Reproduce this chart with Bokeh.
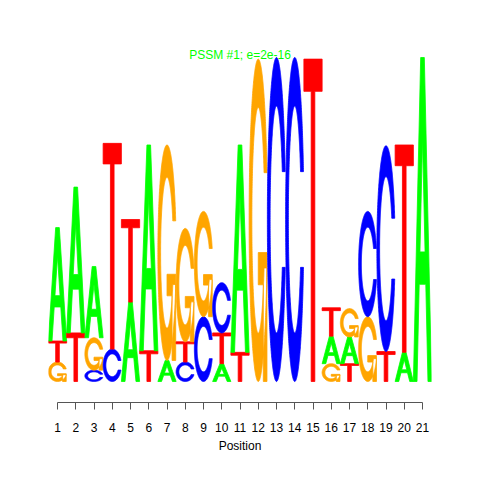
import numpy as np
from bokeh.plotting import figure
from bokeh.models import ColumnDataSource, FixedTicker, Label
from bokeh.embed import file_html
from bokeh.resources import INLINE

# ---- data (information content in bits, per position) ----
positions = list(range(1, 22))
A_bits = [0.70, 0.90, 0.44, 0.00, 0.49, 1.27, 0.13, 0.00, 0.00, 0.11, 1.28,
          0.00, 0.00, 0.00, 0.00, 0.17, 0.165, 0.00, 0.00, 0.18, 2.00]
C_bits = [0.00, 0.00, 0.07, 0.20, 0.00, 0.00, 0.00, 0.12, 0.40, 0.31, 0.00,
          0.00, 2.00, 2.00, 0.00, 0.00, 0.00, 0.65, 1.27, 0.00, 0.00]
G_bits = [0.12, 0.00, 0.20, 0.00, 0.00, 0.00, 1.33, 0.70, 0.65, 0.00, 0.00,
          1.99, 0.00, 0.00, 0.00, 0.11, 0.175, 0.40, 0.00, 0.00, 0.00]
T_bits = [0.13, 0.30, 0.00, 1.27, 0.51, 0.19, 0.00, 0.125, 0.00, 0.19, 0.18,
          0.00, 0.00, 0.00, 1.99, 0.175, 0.11, 0.00, 0.185, 1.28, 0.00]
tick_labels = [str(i) for i in positions]
title_text = "PSSM #1; e=2e-16"
x_label = "Position"

colors = {"A": "#00FF00", "C": "#0000FF", "G": "#FFA500", "T": "#FF0000"}
title_color = "#00FF00"

# ---- letter outlines in a unit box (seqLogo style) ----
def shape_A():
    ox = [0, 0.4, 0.6, 1.0, 0.8, 0.68, 0.32, 0.2]
    oy = [0, 1.0, 1.0, 0.0, 0.0, 0.3, 0.3, 0.0]
    hx = [0.36, 0.5, 0.64]
    hy = [0.4, 0.75, 0.4]
    return [[(ox, oy), (hx, hy)]]

def c_ring():
    a1 = np.linspace(0.3 + np.pi / 2, np.pi, 100)
    a2 = np.linspace(np.pi, 1.5 * np.pi, 100)
    xl1 = 0.5 + 0.5 * np.sin(a1); yl1 = 0.5 + 0.5 * np.cos(a1)
    xl2 = 0.5 + 0.5 * np.sin(a2); yl2 = 0.5 + 0.5 * np.cos(a2)
    xl = np.concatenate([xl1, xl2]); yl = np.concatenate([yl1, yl2])
    x = np.concatenate([xl, xl[::-1]]); y = np.concatenate([yl, 1 - yl[::-1]])
    hmax = yl1.max()
    xi1 = 0.5 + 0.35 * np.sin(a1); yi1 = 0.5 + 0.35 * np.cos(a1)
    m = yi1 <= hmax
    xi1 = xi1[m]; yi1 = yi1[m].copy(); yi1[0] = hmax
    xi2 = 0.5 + 0.35 * np.sin(a2); yi2 = 0.5 + 0.35 * np.cos(a2)
    xi = np.concatenate([xi1, xi2]); yi = np.concatenate([yi1, yi2])
    x1 = np.concatenate([xi, xi[::-1]]); y1 = np.concatenate([yi, 1 - yi[::-1]])
    X = np.concatenate([x, x1[::-1]]); Y = np.concatenate([y, y1[::-1]])
    return list(X), list(Y), xl1.max()

def shape_C():
    X, Y, _ = c_ring()
    return [[(X, Y)]]

def shape_G():
    X, Y, r1 = c_ring()
    h1 = 0.4
    bx = [r1, 0.5, 0.5, r1 - 0.2, r1 - 0.2, r1]
    by = [h1, h1, h1 - 0.1, h1 - 0.1, 0, 0]
    return [[(X, Y)], [(bx, by)]]

def shape_T():
    tx = [0, 1, 1, 0.6, 0.6, 0.4, 0.4, 0]
    ty = [1, 1, 0.9, 0.9, 0, 0, 0.9, 0.9]
    return [[(tx, ty)]]

shapes = {"A": shape_A(), "C": shape_C(), "G": shape_G(), "T": shape_T()}
bits = {"A": A_bits, "C": C_bits, "G": G_bits, "T": T_bits}

xs, ys, fills = [], [], []
for i, pos in enumerate(positions):
    col = sorted([(bits[b][i], b) for b in "ACGT"], key=lambda t: t[0])
    y0 = 0.0
    for h, b in col:
        if h <= 0:
            continue
        gx, gy = [], []
        for poly in shapes[b]:
            px, py = [], []
            for rx, ry in poly:
                px.append([pos - 0.5 + v for v in rx])
                py.append([y0 + v * h for v in ry])
            gx.append(px); gy.append(py)
        xs.append(gx); ys.append(gy); fills.append(colors[b])
        y0 += h

src = ColumnDataSource(dict(xs=xs, ys=ys, color=fills))

scale_x = 18.25
scale_y = 162.0
frame_w, frame_h = 383, 372
x0 = 1 - 9.0 / scale_x
y_bottom = -21.0 / scale_y
y_top = y_bottom + frame_h / scale_y

p = figure(frame_width=frame_w, frame_height=frame_h,
           x_range=(x0, x0 + frame_w / scale_x), y_range=(y_bottom, y_top),
           min_border_left=48, min_border_right=33, min_border_top=30, min_border_bottom=60,
           output_backend="svg", toolbar_location=None, y_axis_location=None,
           background_fill_color="white", border_fill_color="white")
p.outline_line_color = None
p.xgrid.visible = False
p.ygrid.visible = False

p.multi_polygons(xs="xs", ys="ys", source=src, fill_color="color",
                 line_color="color", line_width=0.8)

ax = p.xaxis[0]
ax.ticker = FixedTicker(ticks=positions)
ax.major_label_overrides = {pos: lab for pos, lab in zip(positions, tick_labels)}
ax.bounds = (1, 21)
ax.minor_tick_line_color = None
ax.major_tick_in = 0
ax.major_tick_out = 7
ax.axis_line_color = "#555555"
ax.major_tick_line_color = "#555555"
ax.major_label_text_font = "Liberation Sans"
ax.major_label_text_font_size = "12px"
ax.major_label_text_color = "black"
ax.major_label_standoff = 13
ax.axis_label = x_label
ax.axis_label_text_font = "Liberation Sans"
ax.axis_label_text_font_size = "12px"
ax.axis_label_text_font_style = "normal"
ax.axis_label_text_color = "black"
ax.axis_label_standoff = 4

p.add_layout(Label(x=11, y=(381 - 54.0) / scale_y, text=title_text,
                   text_align="center", text_baseline="alphabetic",
                   text_font="Liberation Sans", text_font_size="12px",
                   text_color=title_color))

open("out.html", "w").write(file_html(p, INLINE))
